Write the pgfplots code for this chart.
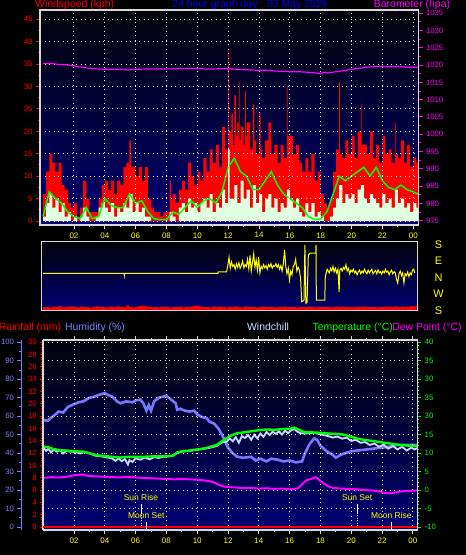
\documentclass[border=0pt]{standalone}
\usepackage{fontspec}
\setmainfont{Liberation Sans}
\usepackage{pgfplots}
\usepackage{pgfplotstable}
\pgfplotsset{compat=1.18}

\definecolor{frameg}{RGB}{215,215,215}
\definecolor{bgbot}{RGB}{0,0,115}
\definecolor{bgtop}{RGB}{2,2,10}
\definecolor{avgw}{RGB}{224,255,224}
\definecolor{lgreen}{RGB}{0,255,0}
\definecolor{mag}{RGB}{255,0,255}
\definecolor{yel}{RGB}{255,255,0}
\definecolor{hum}{RGB}{120,120,255}
\definecolor{humtxt}{RGB}{128,128,255}
\definecolor{wchill}{RGB}{200,220,255}
\definecolor{ttl}{RGB}{0,0,255}

\newcommand{\hfont}{\fontsize{10.5}{12}\selectfont}
\newcommand{\tfont}{\fontsize{7.8}{8}\selectfont}

\pgfplotsset{
  base/.style={scale only axis, anchor=south west, tick align=outside,
    major tick length=4bp, minor tick length=2.2bp,
    tick label style={font=\tfont},
    /pgf/number format/assume math mode=true},
  panel/.style={base,
    axis background/.style={shade, top color=bgtop, bottom color=bgbot},
    axis line style={draw=frameg, line width=1.4bp},
    axis on top,
    grid style={white, line width=0.9bp, dash pattern=on 0.9bp off 3.6bp}},
}

% ---------------- top panel data ----------------
\pgfplotstableread{
h v
0.0 6
0.2 11
0.4 15
0.6 13
0.8 11
1.0 13
1.2 8
1.4 7
1.6 4
1.8 3
2.0 4
2.2 1
2.4 3
2.6 9
2.8 5
3.0 2
3.2 2
3.4 2
3.6 5
3.8 8
4.0 9
4.2 7
4.4 9
4.6 6
4.8 9
5.0 8
5.2 12
5.4 13
5.6 18
5.7 12
5.8 12
6.0 10
6.2 12
6.4 9
6.6 12
6.8 5
7.0 3
7.2 2
7.4 2
7.6 1
7.8 2
8.0 2
8.2 9
8.3 5
8.4 6
8.6 4
8.8 7
9.0 9
9.2 7
9.4 13
9.6 10
9.8 8
10.0 11
10.2 9
10.4 14
10.6 11
10.8 16
11.0 13
11.2 17
11.4 12
11.6 21
11.8 16
12.0 38
12.05 20
12.2 24
12.3 17
12.4 28
12.5 19
12.6 22
12.7 31
12.75 18
12.8 21
13.0 17
13.1 29
13.15 19
13.2 22
13.4 16
13.6 26
13.7 18
13.8 15
14.0 24
14.1 16
14.2 14
14.4 18
14.6 22
14.8 15
15.0 17
15.2 13
15.4 17
15.6 14
15.8 30
15.85 19
16.0 19
16.2 15
16.4 17
16.6 13
16.8 11
17.0 14
17.2 11
17.4 15
17.6 9
17.8 11
18.0 6
18.2 4
18.4 3
18.6 5
18.8 11
19.0 16
19.2 31
19.25 15
19.4 14
19.6 18
19.8 15
20.0 19
20.2 14
20.4 20
20.6 26
20.65 17
20.8 17
21.0 15
21.2 20
21.4 14
21.6 17
21.8 13
22.0 19
22.2 15
22.4 16
22.6 13
22.8 22
22.85 15
23.0 14
23.2 18
23.4 13
23.6 17
23.8 12
24.0 14
24.2 13
24.4 13
}\gusttab

\pgfplotstableread{
h v
0.0 1
0.2 4
0.4 6
0.6 3
0.8 5
1.0 2
1.2 4
1.4 1
1.6 2
1.8 0
2.0 1
2.2 0
2.4 1
2.6 3
2.8 1
3.0 0
3.2 0
3.4 1
3.6 3
3.8 4
4.0 3
4.2 2
4.4 4
4.6 1
4.8 3
5.0 2
5.2 4
5.4 3
5.6 6
5.8 2
6.0 4
6.2 2
6.4 3
6.6 1
6.8 1
7.0 0
8.2 2
8.4 1
8.6 0
8.8 3
9.0 4
9.2 2
9.4 5
9.6 3
9.8 4
10.0 2
10.2 4
10.4 5
10.6 3
10.8 6
11.0 2
11.2 4
11.4 3
11.6 7
11.8 4
12.0 16
12.1 5
12.4 8
12.6 4
12.8 9
13.0 5
13.2 7
13.4 3
13.6 8
13.8 4
14.0 6
14.2 2
14.4 5
14.6 6
14.8 3
15.0 5
15.2 2
15.4 4
15.6 3
15.8 7
16.0 5
16.2 3
16.4 5
16.6 2
16.8 1
17.0 4
17.2 2
17.4 4
17.6 1
17.8 2
18.0 1
18.2 0
18.6 1
18.8 3
19.0 5
19.2 8
19.4 4
19.6 6
19.8 5
20.0 6
20.2 4
20.4 7
20.6 8
20.8 5
21.0 4
21.2 6
21.4 5
21.6 4
21.8 3
22.0 6
22.2 4
22.4 5
22.6 3
22.8 7
23.0 4
23.2 5
23.4 3
23.6 4
23.8 2
24.0 4
24.2 3
24.4 3
}\avgtab

\pgfplotstableread{
h v
0.0 1
0.4 6.5
0.8 5
1.2 4
1.6 2
2.0 1
2.4 0.5
2.8 3
3.2 0.5
3.6 1
4.0 5
4.4 3.5
4.8 3
5.2 3
5.6 6
6.0 4
6.4 4.5
6.8 2
7.2 0.5
7.6 0.3
8.0 0.3
8.4 2
8.8 1.5
9.2 3
9.6 4.5
10.0 3
10.4 4.5
10.8 5
11.2 4
11.6 6.5
12.0 12
12.4 14
12.8 11
13.2 10
13.6 7
14.0 7
14.4 9
14.8 11
15.2 8
15.6 6
16.0 5
16.4 4
16.8 3
17.2 1
17.6 0.3
18.0 0.5
18.4 2
18.8 6
19.2 10
19.6 9
20.0 10
20.4 11
20.8 12
21.2 10
21.6 12
22.0 9
22.4 7.5
22.8 7
23.2 8
23.6 7
24.0 6.5
24.3 6
}\greentab

\pgfplotstableread{
h p
0.0 1020.5
0.5 1020.5
1.0 1020.2
1.5 1020.1
2.0 1019.8
2.5 1019.4
3.0 1019.1
3.5 1018.9
4.0 1018.8
5.0 1018.8
5.5 1018.6
6.0 1018.8
7.0 1018.9
8.0 1018.9
9.0 1019.0
10.0 1019.0
10.5 1018.9
11.0 1018.9
12.0 1019.0
12.5 1018.8
13.0 1018.7
13.5 1018.6
14.0 1018.5
14.5 1018.5
15.0 1018.3
15.5 1018.2
16.0 1018.1
16.5 1018.1
17.0 1018.0
17.5 1017.8
18.0 1017.6
18.2 1017.9
18.5 1017.8
19.0 1018.1
19.5 1018.4
20.0 1018.8
20.5 1019.1
21.0 1019.4
21.5 1019.6
22.0 1019.7
22.5 1019.5
23.0 1019.6
23.5 1019.4
24.0 1019.4
24.3 1019.4
}\barotab

% ---------------- wind direction (degrees + 180) ----------------
\pgfplotstableread{
h d
0.0 202.5
5.25 202.5
5.27 190
5.29 202.5
11.35 202.5
11.36 211
11.90 211
11.98 245
12.06 290
12.14 230
12.22 265
12.30 240
12.38 250
12.46 225
12.54 255
12.62 235
12.70 260
12.78 230
12.86 245
12.94 270
13.02 232
13.10 250
13.18 240
13.26 280
13.34 228
13.42 300
13.50 215
13.58 262
13.66 310
13.74 235
13.82 275
13.90 220
13.98 290
14.06 205
14.14 240
14.22 228
14.30 250
14.38 232
14.46 245
14.54 225
14.62 250
14.70 238
14.78 255
14.86 230
14.94 245
15.02 240
15.10 255
15.18 235
15.26 250
15.34 225
15.42 245
15.50 215
15.58 255
15.66 330
15.74 240
15.82 200
15.90 230
15.98 165
16.06 215
16.14 195
16.22 240
16.30 250
16.38 280
16.46 215
16.54 235
16.62 220
16.70 175
16.77 48
16.92 55
16.98 357
17.04 39
17.12 45
17.20 302
17.31 312
17.69 312
17.70 357
17.72 57
18.27 57
18.30 184
18.42 225
18.56 205
18.64 230
18.72 215
18.80 240
18.88 210
18.96 230
19.04 205
19.12 225
19.20 100
19.24 220
19.32 230
19.40 215
19.48 235
19.56 225
19.64 250
19.72 215
19.80 230
19.88 200
19.96 220
20.04 210
20.12 225
20.20 205
20.28 215
20.36 195
20.44 210
20.52 220
20.60 200
20.68 215
20.76 205
20.84 225
20.92 210
21.00 200
21.08 220
21.16 205
21.24 215
21.32 225
21.40 200
21.48 210
21.56 218
21.64 200
21.72 222
21.80 205
21.88 212
21.96 198
22.04 215
22.12 205
22.20 225
22.28 208
22.36 215
22.44 195
22.52 210
22.60 220
22.68 200
22.76 212
22.84 205
22.92 170
23.00 150
23.08 200
23.16 215
23.24 190
23.32 205
23.40 150
23.48 200
23.56 190
23.64 210
23.72 185
23.80 205
23.88 195
23.96 220
24.04 225
24.10 205
}\dirtab

\pgfplotstableread{
h v
0.0 18
0.2 20
0.4 16
0.6 21
0.8 19
1.0 24
1.2 17
1.4 20
1.6 18
1.8 22
2.0 19
2.2 17
2.4 21
2.6 18
2.8 20
3.0 16
3.2 19
3.4 22
3.6 18
3.8 20
4.0 17
4.2 19
4.4 21
4.6 18
4.8 23
5.0 20
5.2 18
5.4 28
5.6 19
5.8 17
6.0 21
6.2 24
6.4 26
6.6 22
6.8 20
7.0 18
7.2 19
7.4 17
7.6 21
7.8 18
8.0 20
8.2 16
8.4 19
8.6 18
8.8 21
9.0 17
9.2 20
9.4 19
9.6 22
9.8 26
10.0 24
10.2 20
10.4 18
10.6 19
10.8 17
11.0 20
11.2 18
11.4 21
11.6 19
11.8 17
12.0 18
12.2 20
12.4 22
12.6 19
12.8 17
13.0 21
13.2 18
13.4 20
13.6 19
13.8 17
14.0 18
14.2 21
14.4 19
14.6 20
14.8 18
15.0 17
15.2 19
15.4 18
15.6 21
15.8 20
16.0 18
16.2 19
16.4 17
16.6 20
16.8 18
17.0 19
17.2 21
17.4 18
17.6 17
17.8 20
18.0 19
18.2 18
18.4 20
18.6 17
18.8 19
19.0 21
19.2 18
19.4 20
19.6 19
19.8 18
20.0 17
20.2 19
20.4 20
20.6 18
20.8 21
21.0 19
21.2 18
21.4 20
21.6 17
21.8 19
22.0 18
22.2 21
22.4 20
22.6 19
22.8 22
23.0 18
23.2 20
23.4 19
23.6 21
23.8 24
24.0 22
24.2 26
24.4 26
}\dirgusttab

% ---------------- bottom panel ----------------
\pgfplotstableread{
h v
0.0 58
0.3 57.5
0.5 59
0.8 61
1.0 62.5
1.3 62
1.6 65
2.0 66.5
2.3 67.5
2.6 68
3.0 70
3.3 70.5
3.6 71.5
4.0 72.5
4.2 71.5
4.5 70.5
4.8 68
5.0 67
5.4 68
5.8 67.5
6.0 68.5
6.3 69
6.5 67
6.7 63
6.85 66
7.0 63
7.2 68
7.5 70
8.0 71
8.3 69
8.6 67
8.7 63.5
8.9 64
9.2 63
9.5 62.5
9.8 63
10.0 61
10.3 59.5
10.6 59
10.8 57
11.1 56
11.4 53
11.6 50
11.8 47
12.0 43
12.3 40
12.6 38
13.0 37.5
13.5 38
13.8 36
14.1 37
14.5 35.5
14.8 37
15.2 36.5
15.6 35.5
16.0 36
16.4 35
16.8 35.5
17.0 40
17.3 45
17.6 48
17.8 47
18.0 44
18.4 41
18.8 39
19.0 37.5
19.3 39
19.6 40
20.0 41
20.5 41.5
21.0 42
21.5 42.5
22.0 43
22.5 43.5
23.0 44.5
23.5 44.5
24.0 44.5
24.3 44.5
}\humtab

\pgfplotstableread{
h v
0.0 11.8
0.3 11.6
0.6 11.2
1.0 10.8
1.5 10.7
2.0 10.5
2.6 10.4
3.0 10.0
3.5 9.4
4.0 9.2
4.5 9.0
5.0 8.8
5.5 9.0
6.0 9.0
6.5 9.0
7.0 9.1
7.5 9.1
8.0 9.2
8.4 9.3
8.7 10.2
9.0 10.5
9.5 10.7
10.0 11.0
10.5 11.3
11.0 11.9
11.3 12.3
11.6 13.2
11.9 14.0
12.2 14.8
12.6 15.4
13.0 15.6
13.5 15.9
14.0 16.2
14.5 16.4
15.0 16.3
15.5 16.5
16.0 16.6
16.3 16.9
16.6 16.3
17.0 15.6
17.5 15.6
18.0 15.5
18.5 15.3
19.0 15.2
19.5 15.0
20.0 14.4
20.5 13.8
21.0 13.5
21.5 13.2
22.0 12.9
22.5 12.6
23.0 12.3
23.5 12.1
24.0 11.9
24.3 11.9
}\temptab

\pgfplotstableread{
h v
0.0 11.5
0.2 10.6
0.35 11.2
0.5 10.2
0.7 10.9
0.9 10.4
1.1 10.8
1.3 9.9
1.5 10.6
1.8 10.4
2.1 10.3
2.4 9.9
2.7 10.3
3.0 9.9
3.4 9.3
3.8 9.1
4.2 8.8
4.5 8.5
4.7 7.9
4.9 8.6
5.1 7.8
5.3 8.4
5.5 6.9
5.6 8.1
5.8 7.6
6.0 8.6
6.3 8.2
6.6 8.8
6.9 8.3
7.2 8.9
7.5 8.7
7.8 9.0
8.1 9.1
8.4 9.2
8.7 10.0
9.0 10.4
9.5 10.6
10.0 10.9
10.5 11.2
11.0 11.6
11.3 12.0
11.6 12.9
11.9 13.0
12.1 14.0
12.3 13.2
12.5 14.3
12.7 12.8
12.9 14.6
13.1 14.1
13.3 14.9
13.5 13.6
13.7 15.0
13.9 14.0
14.1 15.3
14.3 14.4
14.5 15.7
14.7 14.9
14.9 15.8
15.1 15.2
15.3 15.9
15.5 15.0
15.7 16.1
15.9 15.4
16.1 16.2
16.3 16.5
16.5 15.8
16.7 15.4
17.0 15.3
17.3 15.4
17.6 15.5
17.9 15.2
18.2 14.9
18.5 14.6
18.8 14.2
19.1 14.5
19.4 13.9
19.7 14.2
20.0 13.3
20.3 13.6
20.6 12.8
20.9 13.0
21.2 12.2
21.5 12.6
21.8 11.7
22.1 12.3
22.4 11.2
22.7 11.9
23.0 11.0
23.3 11.7
23.6 10.7
23.9 11.5
24.1 11.0
24.3 11.4
}\chilltab

\pgfplotstableread{
h v
0.0 3.3
0.5 3.5
1.0 3.4
1.5 3.6
2.0 4.0
2.5 4.2
3.0 3.8
3.5 3.7
4.0 3.6
4.5 3.5
5.0 3.4
5.5 3.6
6.0 3.4
6.5 3.3
7.0 3.2
7.5 3.1
8.0 3.0
8.5 2.9
9.0 3.0
9.5 2.9
10.0 2.8
10.5 2.6
11.0 2.2
11.3 1.6
11.6 1.1
12.0 0.8
12.5 0.7
13.0 0.5
13.5 0.6
14.0 0.4
14.5 0.5
15.0 0.3
15.5 0.4
16.0 0.2
16.5 0.4
16.8 1.5
17.1 2.7
17.4 3.0
17.7 3.5
17.9 2.8
18.2 1.8
18.5 1.0
18.8 0.6
19.3 0.4
19.8 0.3
20.3 0.2
20.8 0.0
21.3 -0.1
21.8 -0.3
22.2 -0.8
22.6 -0.9
23.0 -0.5
23.4 -0.3
23.8 -0.2
24.3 -0.1
}\dewtab

\begin{document}
\begin{tikzpicture}
\useasboundingbox (0,0) rectangle (466bp,555bp);
\fill[black] (0,0) rectangle (466bp,555bp);

% ===== top panel: wind speed =====
\begin{axis}[panel, at={(40bp,330bp)}, width=378.5bp, height=215bp,
  xmin=-0.2, xmax=24.34, ymin=-0.89, ymax=47.07,
  xtick={2,4,...,24}, xticklabels={02,04,06,08,10,12,14,16,18,20,22,00},
  minor x tick num=1, xtick pos=left,
  ytick={0,5,...,45}, yticklabels={0,5,10,15,20,35,30,35,40,45},
  minor y tick num=1, ytick pos=left,
  xmajorgrids, ymajorgrids,
  xticklabel style={text=yel, font=\fontsize{8}{9}\selectfont},
  yticklabel style={text=red},
  x tick style={frameg, line width=0.8bp},
  y tick style={red, line width=1bp}]
\addplot[const plot, draw=none, fill=red] table[x=h,y=v] {\gusttab} \closedcycle;
\addplot[const plot, draw=none, fill=avgw] table[x=h,y=v] {\avgtab} \closedcycle;
\addplot[lgreen, line width=1.5bp] table[x=h,y=v] {\greentab};
\end{axis}
\begin{axis}[base, at={(40bp,330bp)}, width=378.5bp, height=215bp,
  xmin=-0.2, xmax=24.34, ymin=973.76, ymax=1035.95,
  hide x axis, axis y line*=right,
  y axis line style={draw=frameg, line width=1.4bp},
  ytick={975,980,...,1035},
  yticklabels={975,980,985,990,995,1000,1005,1010,1015,1020,1025,1030,1035},
  minor y tick num=1,
  yticklabel style={text=mag},
  y tick style={mag, line width=1bp}]
\addplot[mag, line width=1.2bp] table[x=h,y=p] {\barotab};
\end{axis}

% ===== middle panel: wind direction =====
\begin{axis}[panel, at={(41.5bp,244.5bp)}, width=376bp, height=69bp,
  xmin=-0.1, xmax=24.28, ymin=0, ymax=376,
  xtick=\empty, ytick={0,90,180,270,360}, yticklabels={S,W,N,E,S},
  ytick pos=right, yticklabel pos=right, y tick style={draw=none},
  yticklabel style={text=yel, font=\fontsize{11}{12}\selectfont, anchor=center, xshift=17bp}]
\addplot[const plot, draw=none, fill=red] table[x=h,y=v] {\dirgusttab} \closedcycle;
\addplot[yel, line width=1bp] table[x=h,y=d] {\dirtab};
\end{axis}

% ===== bottom panel =====
\begin{axis}[panel, at={(43.2bp,25bp)}, width=374bp, height=190bp,
  xmin=0, xmax=24.28, ymin=-1.62, ymax=101.25,
  xtick={2,4,...,24}, xticklabels={02,04,06,08,10,12,14,16,18,20,22,00},
  minor x tick num=1,
  ytick={0,10,...,100}, yticklabels={}, y tick style={draw=none},
  xmajorgrids, ymajorgrids,
  xticklabel style={text=yel, font=\fontsize{8}{9}\selectfont},
  x tick style={frameg, line width=0.8bp}]
\addplot[hum, line width=2.6bp] table[x=h,y=v] {\humtab};
\end{axis}
\begin{axis}[base, at={(43.2bp,25bp)}, width=374bp, height=190bp,
  xmin=0, xmax=24.28, ymin=-10.81, ymax=40.62,
  hide x axis, axis y line*=right,
  y axis line style={draw=frameg, line width=1.4bp},
  ytick={-10,-5,...,40}, yticklabels={-10,-5,0,5,10,15,30,35,30,35,40},
  minor y tick num=4,
  yticklabel style={text=lgreen},
  y tick style={lgreen, line width=1bp}]
\addplot[wchill, line width=1.8bp] table[x=h,y=v] {\chilltab};
\addplot[lgreen, line width=2.4bp] table[x=h,y=v] {\temptab};
\addplot[mag, line width=2bp] table[x=h,y=v] {\dewtab};
\end{axis}
\begin{axis}[base, at={(43.2bp,25bp)}, width=374bp, height=190bp,
  xmin=0, xmax=24.28, ymin=-0.49, ymax=30.37,
  hide x axis, axis y line*=left,
  y axis line style={draw=frameg, line width=1.4bp},
  ytick={0,2,...,30}, yticklabels={0,2,4,6,8,10,12,14,16,18,20,32,34,26,28,30},
  minor y tick num=4, major tick length=3bp, minor tick length=1.8bp,
  yticklabel style={text=red},
  y tick style={red, line width=0.9bp}]
\addplot[red, line width=2.6bp] coordinates {(0,0) (24.28,0)};
\addplot[white, line width=1bp] coordinates {(6.35,3.74) (6.35,2.27)};
\addplot[white, line width=0.8bp, dash pattern=on 0.8bp off 1.6bp] coordinates {(6.35,2.27) (6.35,0.3)};
\addplot[white, line width=1bp] coordinates {(6.69,0.75) (6.69,-0.35)};
\addplot[white, line width=1bp] coordinates {(20.38,3.74) (20.38,2.27)};
\addplot[white, line width=0.8bp, dash pattern=on 0.8bp off 1.6bp] coordinates {(20.38,2.27) (20.38,0.3)};
\addplot[white, line width=1bp] coordinates {(22.6,0.75) (22.6,-0.35)};
\node[text=yel, font=\fontsize{8.5}{9}\selectfont] at (axis cs:6.35,4.82) {Sun Rise};
\node[text=yel, font=\fontsize{8.5}{9}\selectfont] at (axis cs:6.69,1.79) {Moon Set};
\node[text=yel, font=\fontsize{8.5}{9}\selectfont] at (axis cs:20.38,4.82) {Sun Set};
\node[text=yel, font=\fontsize{8.5}{9}\selectfont] at (axis cs:22.6,1.79) {Moon Rise};
\end{axis}
% humidity scale, outer left
\begin{axis}[base, at={(21.5bp,25bp)}, width=1bp, height=190bp,
  xmin=0, xmax=1, ymin=-1.62, ymax=101.25,
  hide x axis, axis y line*=left,
  y axis line style={draw=hum, line width=1.8bp},
  ytick={0,10,...,100}, minor y tick num=1,
  yticklabel style={text=humtxt},
  y tick style={hum, line width=1bp}]
\end{axis}

% ===== headings =====
\node[anchor=base, text=red, font=\hfont] at (74.7bp,547.3bp) {Windspeed (kph)};
\node[anchor=base, text=ttl, font=\hfont] at (250bp,547.3bp) {24 hour graph day : 03 May 2026};
\node[anchor=base, text=mag, font=\hfont] at (412bp,547.3bp) {Barometer (hpa)};
\node[anchor=base, text=red, font=\hfont] at (30bp,224.7bp) {Rainfall (mm)};
\node[anchor=base, text=humtxt, font=\hfont] at (95bp,224.7bp) {Humidity (\%)};
\node[anchor=base, text=wchill, font=\hfont] at (268bp,224.7bp) {Windchill};
\node[anchor=base, text=lgreen, font=\hfont] at (352.7bp,224.7bp) {Temperature (°C)};
\node[anchor=base, text=mag, font=\hfont] at (427bp,224.7bp) {Dew Point (°C)};
\end{tikzpicture}
\end{document}
